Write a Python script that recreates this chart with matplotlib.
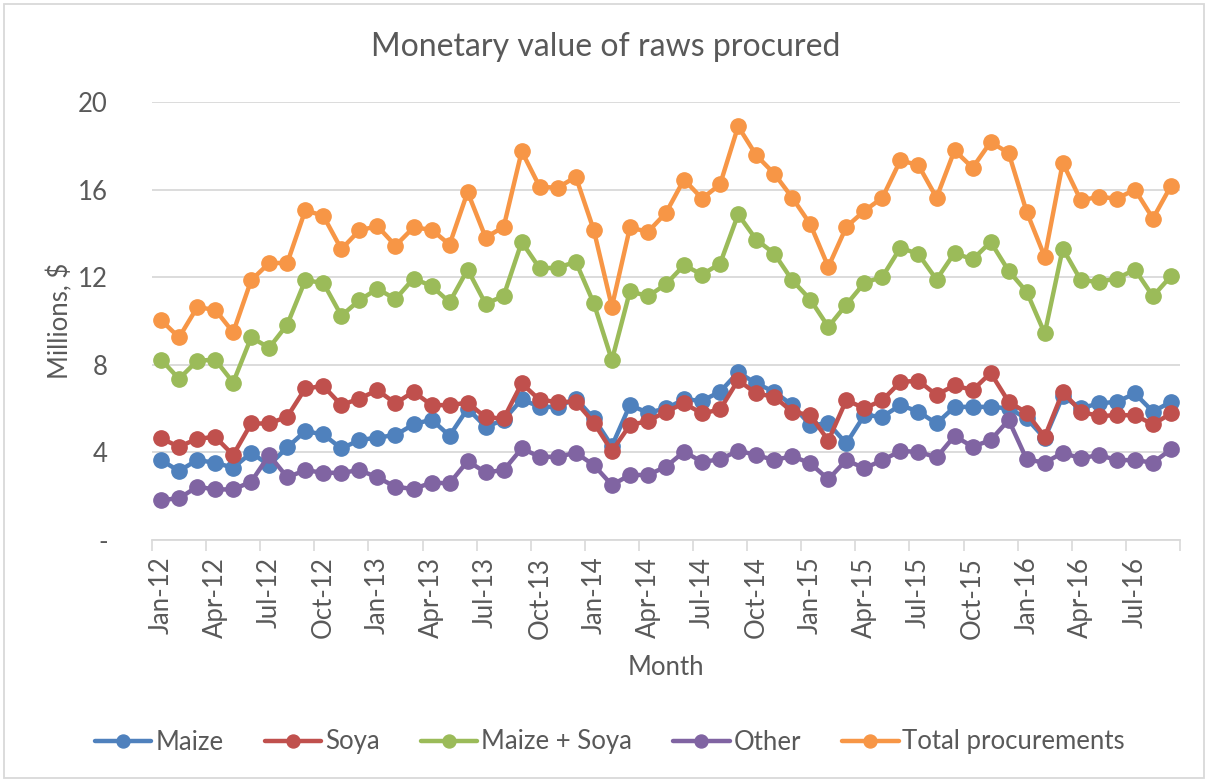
import matplotlib
matplotlib.use("Agg")
import matplotlib.pyplot as plt
from matplotlib.patches import Rectangle
import numpy as np

# monthly values, Jan-12 .. Sep-16 (millions $)
maize = [3.65, 3.15, 3.65, 3.53, 3.30, 3.98, 3.42, 4.23, 4.97, 4.82, 4.18, 4.56,
         4.68, 4.79, 5.28, 5.50, 4.76, 6.00, 5.17, 5.48, 6.42, 6.08, 6.08, 6.46,
         5.55, 4.29, 6.16, 5.81, 6.01, 6.42, 6.36, 6.77, 7.66, 7.15, 6.77, 6.16,
         5.25, 5.32, 4.41, 5.70, 5.63, 6.16, 5.86, 5.32, 6.08, 6.08, 6.08, 6.01,
         5.55, 4.64, 6.57, 6.01, 6.24, 6.31, 6.69, 5.86, 6.31]
soya = [4.64, 4.26, 4.62, 4.71, 3.88, 5.32, 5.32, 5.63, 6.92, 7.03, 6.16, 6.46,
        6.84, 6.24, 6.77, 6.16, 6.16, 6.27, 5.60, 5.55, 7.15, 6.39, 6.31, 6.31,
        5.35, 4.06, 5.25, 5.43, 5.86, 6.24, 5.78, 5.96, 7.30, 6.69, 6.54, 5.86,
        5.70, 4.54, 6.39, 6.01, 6.39, 7.22, 7.27, 6.62, 7.07, 6.84, 7.63, 6.31,
        5.81, 4.71, 6.77, 5.86, 5.66, 5.70, 5.70, 5.28, 5.78]
maize_soya = [8.24, 7.36, 8.18, 8.24, 7.19, 9.25, 8.78, 9.84, 11.86, 11.74, 10.24, 10.95,
              11.47, 11.00, 11.94, 11.60, 10.86, 12.35, 10.78, 11.15, 13.61, 12.40, 12.44, 12.70,
              10.80, 8.21, 11.36, 11.13, 11.68, 12.55, 12.12, 12.62, 14.87, 13.72, 13.08, 11.86,
              10.98, 9.73, 10.75, 11.74, 12.02, 13.35, 13.05, 11.89, 13.11, 12.81, 13.61, 12.29,
              11.33, 9.43, 13.31, 11.86, 11.79, 11.94, 12.35, 11.13, 12.05]
other = [1.83, 1.90, 2.43, 2.31, 2.31, 2.66, 3.88, 2.86, 3.19, 3.07, 3.07, 3.19,
         2.86, 2.43, 2.33, 2.62, 2.59, 3.60, 3.09, 3.19, 4.18, 3.80, 3.80, 3.98,
         3.42, 2.51, 2.97, 2.97, 3.35, 4.03, 3.57, 3.68, 4.08, 3.88, 3.65, 3.83,
         3.50, 2.77, 3.65, 3.27, 3.65, 4.06, 4.03, 3.77, 4.75, 4.26, 4.56, 5.48,
         3.68, 3.53, 3.98, 3.73, 3.88, 3.65, 3.65, 3.53, 4.14]
total = [10.04, 9.25, 10.62, 10.52, 9.48, 11.86, 12.65, 12.65, 15.06, 14.80, 13.28, 14.14,
         14.33, 13.44, 14.27, 14.17, 13.49, 15.89, 13.81, 14.30, 17.75, 16.12, 16.09, 16.58,
         14.14, 10.65, 14.27, 14.07, 14.94, 16.46, 15.59, 16.24, 18.89, 17.57, 16.73, 15.63,
         14.42, 12.47, 14.30, 15.03, 15.63, 17.34, 17.11, 15.63, 17.79, 17.00, 18.17, 17.67,
         14.98, 12.93, 17.22, 15.51, 15.67, 15.59, 16.00, 14.68, 16.17]

month_labels = ["Jan-12", "Apr-12", "Jul-12", "Oct-12", "Jan-13", "Apr-13", "Jul-13",
                "Oct-13", "Jan-14", "Apr-14", "Jul-14", "Oct-14", "Jan-15", "Apr-15",
                "Jul-15", "Oct-15", "Jan-16", "Apr-16", "Jul-16"]
y_ticks = [0, 4, 8, 12, 16, 20]
y_labels = ["-", "4", "8", "12", "16", "20"]

series = [("Maize", maize, "#4f81bd"),
          ("Soya", soya, "#c0504d"),
          ("Maize + Soya", maize_soya, "#9bbb59"),
          ("Other", other, "#8064a2"),
          ("Total procurements", total, "#f79646")]

txt = "#595959"
plt.rcParams['font.family'] = ['Lato', 'DejaVu Sans']

fig = plt.figure(figsize=(12.08, 7.82), dpi=100)
ax = fig.add_axes([152 / 1208, 1 - 540 / 782, (1180 - 152) / 1208, (540 - 102) / 782])

x = np.arange(len(total))
for name, vals, col in series:
    ax.plot(x, vals, color=col, lw=3.2, marker="o", ms=11, label=name,
            solid_capstyle="round", solid_joinstyle="round")

ax.set_xlim(-0.5, len(total) - 0.5)
ax.set_ylim(0, 20)
ax.set_yticks(y_ticks)
ax.set_yticklabels(y_labels)
ax.set_xticks(np.arange(0, len(total), 3))
ax.set_xticklabels(month_labels, rotation=90)
ax.set_xticks(np.arange(-0.5, len(total), 3), minor=True)
ax.tick_params(axis="x", which="major", length=0, pad=12, labelsize=18.5, labelcolor=txt)
ax.tick_params(axis="x", which="minor", length=8, width=1.2, color="#d9d9d9")
ax.tick_params(axis="y", length=0, pad=32, labelsize=18.5, labelcolor=txt)

ax.grid(axis="y", color="#d9d9d9", lw=1.3)
ax.set_axisbelow(True)
for s in ["top", "right", "left"]:
    ax.spines[s].set_visible(False)
ax.spines["bottom"].set_color("#d9d9d9")
ax.spines["bottom"].set_linewidth(1.3)

fig.text(606 / 1208, 1 - 47 / 782, "Monetary value of raws procured",
         fontsize=23, color=txt, ha="center", va="center")
ax.set_xlabel("Month", fontsize=18.5, color=txt, labelpad=12)
ax.set_ylabel("Millions, $", fontsize=18.5, color=txt, labelpad=3)

fig.legend(loc="center", bbox_to_anchor=(610 / 1208, 1 - 742 / 782), ncol=5,
           frameon=False, fontsize=18.5, labelcolor=txt, handlelength=2.2,
           handletextpad=0.15, columnspacing=1.6, markerscale=0.85)

fig.add_artist(Rectangle((4 / 1208, 4 / 782), 1 - 8 / 1208, 1 - 8 / 782,
                         transform=fig.transFigure, fill=False,
                         edgecolor="#d9d9d9", lw=1.3))

fig.savefig("out.png", dpi=100)
